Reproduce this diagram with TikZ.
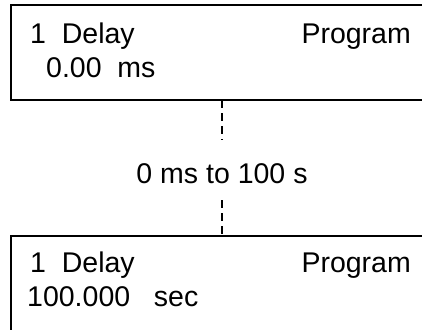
\documentclass[tikz,border=0pt]{standalone}
\usepackage{fontspec}
\setmainfont{Liberation Sans}
\begin{document}
\begin{tikzpicture}[x=1pt,y=-1pt,
  boxline/.style={line width=1.8pt},
  txt/.style={inner sep=0pt,anchor=base west,font=\fontsize{28.5}{34}\selectfont},
  dashline/.style={line width=1.6pt,dash pattern=on 8pt off 5pt}]
\useasboundingbox (0,0) rectangle (422,329);
\clip (0,0) rectangle (422,329);
\draw[boxline] (430,5) -- (11,5) -- (11,100) -- (430,100);
\draw[boxline] (430,236) -- (11,236) -- (11,340);
\node[txt] (d1) at (30,44) {1\ \ Delay};
\node[txt,anchor=base east] (p1) at (411,44) {Program};
\node[txt] (v1) at (46,77) {0.00\ \ ms};
\node[txt] (d2) at (30,272) {1\ \ Delay};
\node[txt,anchor=base east] (p2) at (411,272) {Program};
\node[txt] (v2) at (27,306) {100.000\ \ \ sec};
\node[txt,anchor=base] (r) at (222,183) {0 ms to 100 s};
\coordinate (t) at (222,100);
\coordinate (tm) at (222,140);
\coordinate (bm) at (222,200);
\coordinate (b) at (222,236);
\draw[dashline] (t) -- (tm);
\draw[dashline] (bm) -- (b);
\end{tikzpicture}
\end{document}
